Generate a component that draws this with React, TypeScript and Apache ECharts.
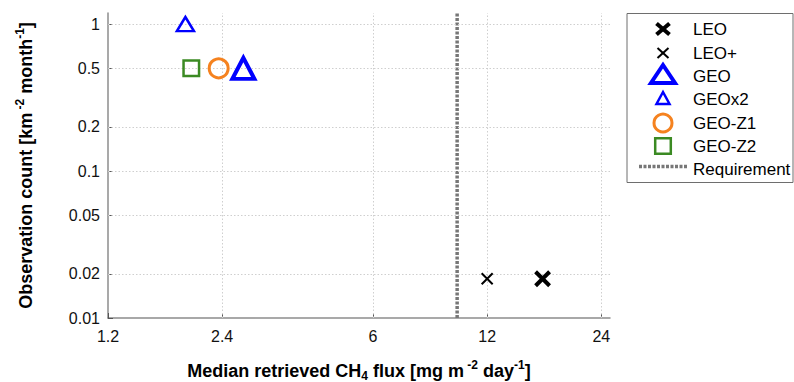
import React, { useEffect, useRef } from "react";
import * as echarts from "echarts";

// Retrieval performance per observing concept
const SERIES_NAMES = ["LEO", "LEO+", "GEO", "GEOx2", "GEO-Z1", "GEO-Z2"];
const MEDIAN_FLUX = [16.8, 12.0, 2.73, 1.92, 2.35, 1.99]; // mg m-2 day-1
const OBS_COUNT = [0.0185, 0.0185, 0.5, 1.0, 0.5, 0.5]; // km-2 month-1
const REQUIREMENT_FLUX = 10;
const REQUIREMENT_NAME = "Requirement";

// Axis ticks
const X_TICKS = [1.2, 2.4, 6, 12, 24];
const X_TICK_LABELS = ["1.2", "2.4", "6", "12", "24"];
const Y_TICKS = [0.01, 0.02, 0.05, 0.1, 0.2, 0.5, 1];
const Y_TICK_LABELS = ["0.01", "0.02", "0.05", "0.1", "0.2", "0.5", "1"];
const X_RANGE = [1.2, 25.3];
const Y_RANGE = [0.01, 1.19];

const FONT = "'Liberation Sans', Arial, Helvetica, sans-serif";
const BLUE = "#0000ff";
const ORANGE = "#f5821f";
const GREEN = "#3b8a23";
const REQ_GREY = "#777777";
const GRID_GREY = "#cfcfcf";

const CROSS = "path://M0,0L10,10M10,0L0,10";

const MARKERS = [
  { symbol: CROSS, size: 14, color: "#000000", width: 4 },
  { symbol: CROSS, size: 11, color: "#000000", width: 2 },
  { symbol: "triangle", size: [22, 21], color: BLUE, width: 4 },
  { symbol: "triangle", size: [17, 14], color: BLUE, width: 2.5 },
  { symbol: "circle", size: 19, color: ORANGE, width: 3 },
  { symbol: "rect", size: 15.5, color: GREEN, width: 2.5 },
];

const lg = Math.log10;

function tickLabel(ticks: number[], labels: string[]) {
  return (v: number) => {
    let best = 0;
    ticks.forEach((t, i) => {
      if (Math.abs(lg(t) - v) < Math.abs(lg(ticks[best]) - v)) best = i;
    });
    return labels[best];
  };
}

const titleRich = {
  t: { fontSize: 18, fontWeight: "bold", fontFamily: FONT, color: "#000", lineHeight: 23, verticalAlign: "middle" },
  sup: { fontSize: 12, fontWeight: "bold", fontFamily: FONT, color: "#000", lineHeight: 12, verticalAlign: "top" },
  sub: { fontSize: 12, fontWeight: "bold", fontFamily: FONT, color: "#000", lineHeight: 12, verticalAlign: "bottom" },
};

function legendGraphic() {
  const x0 = 663;
  const textX = 693;
  const rows = [29, 53, 76, 99.5, 123, 146, 169.5];
  const els: any[] = [
    {
      type: "rect",
      shape: { x: 627, y: 13.5, width: 166, height: 169 },
      style: { fill: "#fff", stroke: "#6e6e6e", lineWidth: 1 },
      z: 10,
    },
  ];
  // LEO: bold cross
  const bx = 6.5;
  els.push(
    { type: "line", shape: { x1: x0 - bx, y1: rows[0] - bx + 1, x2: x0 + bx, y2: rows[0] + bx - 1 }, style: { stroke: "#000", lineWidth: 4 }, z: 11 },
    { type: "line", shape: { x1: x0 + bx, y1: rows[0] - bx + 1, x2: x0 - bx, y2: rows[0] + bx - 1 }, style: { stroke: "#000", lineWidth: 4 }, z: 11 }
  );
  // LEO+: thin cross
  const sx = 5.5;
  els.push(
    { type: "line", shape: { x1: x0 - sx, y1: rows[1] - sx + 0.5, x2: x0 + sx, y2: rows[1] + sx - 0.5 }, style: { stroke: "#000", lineWidth: 2 }, z: 11 },
    { type: "line", shape: { x1: x0 + sx, y1: rows[1] - sx + 0.5, x2: x0 - sx, y2: rows[1] + sx - 0.5 }, style: { stroke: "#000", lineWidth: 2 }, z: 11 }
  );
  // GEO: large triangle
  els.push({
    type: "polygon",
    shape: { points: [[x0 - 12, rows[2] + 7], [x0 + 12, rows[2] + 7], [x0, rows[2] - 11]] },
    style: { fill: "none", stroke: BLUE, lineWidth: 4 },
    z: 11,
  });
  // GEOx2: small triangle
  els.push({
    type: "polygon",
    shape: { points: [[x0 - 6.5, rows[3] + 4.5], [x0 + 6.5, rows[3] + 4.5], [x0, rows[3] - 7.5]] },
    style: { fill: "none", stroke: BLUE, lineWidth: 2.5 },
    z: 11,
  });
  // GEO-Z1: circle
  els.push({
    type: "circle",
    shape: { cx: x0, cy: rows[4], r: 9 },
    style: { fill: "none", stroke: ORANGE, lineWidth: 3 },
    z: 11,
  });
  // GEO-Z2: square
  els.push({
    type: "rect",
    shape: { x: x0 - 7.8, y: rows[5] - 7.8, width: 15.6, height: 15.6 },
    style: { fill: "none", stroke: GREEN, lineWidth: 2.5 },
    z: 11,
  });
  // Requirement: dotted line
  els.push({
    type: "line",
    shape: { x1: 639, y1: rows[6] - 3, x2: 688, y2: rows[6] - 3 },
    style: { stroke: REQ_GREY, lineWidth: 3.5, lineDash: [3, 1.5] },
    z: 11,
  });
  const names = [...SERIES_NAMES, REQUIREMENT_NAME];
  names.forEach((n, i) => {
    els.push({
      type: "text",
      x: textX,
      y: rows[i],
      style: { text: n, fill: "#000", font: `17px ${FONT}`, textVerticalAlign: "middle", textAlign: "left" },
      z: 11,
    });
  });
  return els;
}

export default function App() {
  const ref = useRef<HTMLDivElement>(null);

  useEffect(() => {
    if (!ref.current) return;
    const chart = echarts.init(ref.current, undefined, { renderer: "svg" });

    const scatterSeries = SERIES_NAMES.map((name, i) => ({
      name,
      type: "scatter",
      data: [[lg(MEDIAN_FLUX[i]), lg(OBS_COUNT[i])]],
      symbol: MARKERS[i].symbol,
      symbolSize: MARKERS[i].size,
      itemStyle: {
        color: "rgba(0,0,0,0)",
        borderColor: MARKERS[i].color,
        borderWidth: MARKERS[i].width,
        opacity: 1,
      },
      z: 5,
    }));

    // dotted grid at every tick inside the plot area
    const gridLines = [
      ...X_TICKS.filter((t) => t > X_RANGE[0]).map((t) => ({ xAxis: lg(t) })),
      ...Y_TICKS.filter((t) => t > Y_RANGE[0]).map((t) => ({ yAxis: lg(t) })),
    ];

    const option: any = {
      animation: false,
      backgroundColor: "#ffffff",
      textStyle: { fontFamily: FONT },
      grid: { left: 108, right: 184, top: 13, bottom: 64, containLabel: false, outerBoundsMode: "none" },
      xAxis: {
        type: "value",
        min: lg(X_RANGE[0]),
        max: lg(X_RANGE[1]),
        name: "{t|Median retrieved CH}{sub|4}{t| flux [mg m}{sup| -2}{t| day}{sup|-1}{t|]}",
        nameLocation: "middle",
        nameGap: 41,
        nameTextStyle: { rich: titleRich },
        axisLine: { show: true, onZero: false, lineStyle: { color: "#8c8c8c", width: 1.5 } },
        axisTick: {
          show: true,
          inside: true,
          length: 5,
          customValues: X_TICKS.map(lg),
          lineStyle: { color: "#555", width: 1 },
        },
        axisLabel: {
          customValues: X_TICKS.map(lg),
          formatter: tickLabel(X_TICKS, X_TICK_LABELS),
          fontSize: 16,
          fontFamily: FONT,
          color: "#111",
          margin: 10,
          showMinLabel: true,
          showMaxLabel: true,
        },
        splitLine: { show: false },
      },
      yAxis: {
        type: "value",
        min: lg(Y_RANGE[0]),
        max: lg(Y_RANGE[1]),
        name: "{t|Observation count [km}{sup| -2}{t| month}{sup|-1}{t|]}",
        nameLocation: "middle",
        nameRotate: 90,
        nameGap: 71,
        nameTextStyle: { rich: titleRich },
        axisLine: { show: true, onZero: false, lineStyle: { color: "#8c8c8c", width: 1.5 } },
        axisTick: {
          show: true,
          inside: true,
          length: 5,
          customValues: Y_TICKS.map(lg),
          lineStyle: { color: "#555", width: 1 },
        },
        axisLabel: {
          customValues: Y_TICKS.map(lg),
          formatter: tickLabel(Y_TICKS, Y_TICK_LABELS),
          fontSize: 16,
          fontFamily: FONT,
          color: "#111",
          margin: 8,
          showMinLabel: true,
          showMaxLabel: true,
        },
        splitLine: { show: false },
      },
      series: [
        {
          type: "line",
          data: [],
          silent: true,
          z: 1,
          markLine: {
            silent: true,
            symbol: ["none", "none"],
            label: { show: false },
            lineStyle: { color: GRID_GREY, width: 1, type: [1.5, 2] },
            emphasis: { disabled: true },
            data: gridLines,
          },
        },
        {
          name: REQUIREMENT_NAME,
          type: "line",
          data: [
            [lg(REQUIREMENT_FLUX), lg(Y_RANGE[0])],
            [lg(REQUIREMENT_FLUX), lg(Y_RANGE[1])],
          ],
          symbol: "none",
          lineStyle: { color: REQ_GREY, width: 3.5, type: [3, 1.5] },
          z: 3,
        },
        ...scatterSeries,
      ],
      graphic: legendGraphic(),
    };

    chart.setOption(option);
    return () => chart.dispose();
  }, []);

  return (
    <div
      ref={ref}
      style={{ position: "fixed", left: 0, top: 0, width: 794, height: 382, background: "#fff" }}
    />
  );
}
